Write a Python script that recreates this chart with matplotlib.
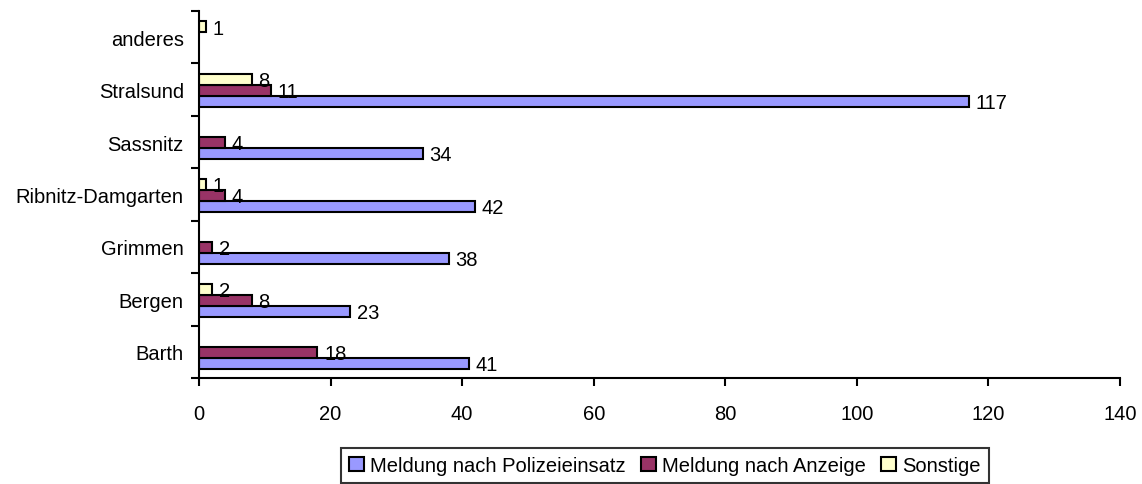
import numpy as np
import matplotlib.pyplot as plt
from matplotlib.ticker import FixedLocator

plt.rcParams['font.family'] = ['Liberation Sans', 'DejaVu Sans']
plt.rcParams['font.size'] = 14.5

orte = ['Barth', 'Bergen', 'Grimmen', 'Ribnitz-Damgarten', 'Sassnitz', 'Stralsund', 'anderes']
polizei = [41, 23, 38, 42, 34, 117, 0]
anzeige = [18, 8, 2, 4, 4, 11, 0]
sonstige = [0, 2, 0, 1, 0, 8, 1]

serien = [
    ('Meldung nach Polizeieinsatz', polizei, '#9999FF', -0.225),
    ('Meldung nach Anzeige', anzeige, '#993366', -0.015),
    ('Sonstige', sonstige, '#FFFFCC', 0.195),
]

fig = plt.figure(figsize=(11.42, 4.85), dpi=100)
ax = fig.add_axes([0.1743, 0.2186, 0.8064, 0.7567])

y = np.arange(len(orte))
handles = []
for name, werte, farbe, off in serien:
    werte = np.array(werte)
    mask = werte > 0
    b = ax.barh(y[mask] + off, werte[mask], height=0.21, color=farbe,
                edgecolor='black', linewidth=1.5, label=name)
    handles.append(b)
    for yy, w in zip(y[mask] + off, werte[mask]):
        ax.text(w + 1.0, yy - 0.02, str(w), va='center', ha='left')

ax.set_xlim(0, 140)
ax.set_ylim(-0.5, 6.5)
ax.set_xticks(np.arange(0, 141, 20))
ax.yaxis.set_major_locator(FixedLocator(np.arange(-0.5, 7, 1)))
ax.yaxis.set_minor_locator(FixedLocator(y))
ax.set_yticklabels([], minor=False)
ax.set_yticklabels(orte, minor=True)
ax.tick_params(axis='y', which='major', length=6, width=1.5, direction='out')
ax.tick_params(axis='y', which='minor', length=0, pad=11)
ax.tick_params(axis='x', length=6, width=1.5, direction='out', pad=13)

for s in ['top', 'right']:
    ax.spines[s].set_visible(False)
for s in ['left', 'bottom']:
    ax.spines[s].set_linewidth(1.5)

leg = fig.legend(handles=handles, loc='center', bbox_to_anchor=(0.582, 0.038),
                 ncol=3, frameon=True, fancybox=False, edgecolor='black',
                 handlelength=0.75, handleheight=0.75, handletextpad=0.3,
                 columnspacing=0.75, borderpad=0.4, borderaxespad=0)
leg.get_frame().set_linewidth(1.5)

fig.savefig('out.png', dpi=100)
